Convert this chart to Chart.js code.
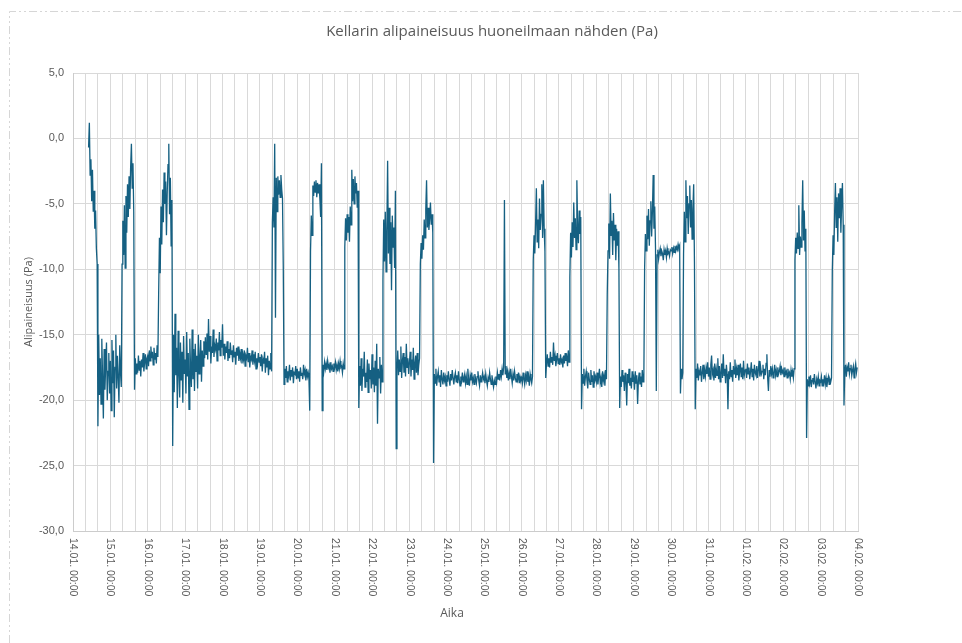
<!DOCTYPE html>
<html>
<head>
<meta charset="utf-8">
<title>Kellarin alipaineisuus</title>
<script src="https://cdn.jsdelivr.net/npm/chart.js@4.4.1/dist/chart.umd.min.js"></script>
<style>
  html, body { margin: 0; padding: 0; background: #fff; }
  #wrap { width: 962px; height: 643px; position: relative; }
</style>
</head>
<body>
<div id="wrap"><canvas id="chart"></canvas></div>
<script>
// x axis: hours since 14.01. 00:00, one reading every half hour
const tickLabels = [
    '14.01. 00:00', '15.01. 00:00', '16.01. 00:00', '17.01. 00:00', '18.01. 00:00', '19.01. 00:00',
    '20.01. 00:00', '21.01. 00:00', '22.01. 00:00', '23.01. 00:00', '24.01. 00:00', '25.01. 00:00',
    '26.01. 00:00', '27.01. 00:00', '28.01. 00:00', '29.01. 00:00', '30.01. 00:00', '31.01. 00:00',
    '01.02. 00:00', '02.02. 00:00', '03.02. 00:00', '04.02. 00:00'
];
const yMin = -30, yMax = 5, yStep = 5;
const stepHours = 0.5;

// alipaineisuus (Pa), 48 readings per day
const jan14 = [
    null, null, null, null, null, null, null, null, null, null, null, null,
    null, null, null, null, null, null, null, null, -0.7, 1.2, -2.8, -1.6,
    -4.8, -2.4, -5.6, -4.0, -6.9, -5.5, -8.4, -9.6, -22.0, -15.0, -19.6, -16.8,
    -20.3, -15.3, -18.4, -21.4, -16.1, -19.2, -17.3, -15.6, -20.0, -17.8, -16.4, -19.5
];
const jan15 = [
    -17.0, -20.8, -15.4, -18.7, -16.2, -21.3, -17.5, -15.0, -19.1, -16.6, -18.3, -20.2,
    -15.8, -17.9, -19.0, -9.6, -6.3, -8.9, -5.1, -9.9, -4.4, -7.2, -3.5, -6.0,
    -2.9, -5.4, -2.2, -0.4, -3.8, -1.9, -5.6, -19.2, -16.8, -18.0, -17.2, -17.9,
    -16.6, -17.7, -17.0, -18.2, -16.9, -17.5, -16.4, -17.8, -17.1, -16.5, -17.6, -16.8
];
const jan16 = [
    -16.6, -17.4, -16.2, -17.0, -15.9, -16.8, -16.3, -17.3, -16.0, -16.9, -16.4, -17.2,
    -15.8, -16.7, -11.8, -7.6, -10.3, -5.2, -8.1, -3.9, -6.4, -2.6, -5.0, -3.3,
    -7.4, -4.1, -2.0, -0.4, -5.8, -3.0, -8.2, -4.7, -23.5, -15.0, -19.4, -13.4,
    -18.1, -16.0, -20.6, -14.7, -17.9, -19.8, -15.6, -18.5, -16.3, -20.2, -15.1, -18.0
];
const jan17 = [
    -16.9, -19.5, -14.8, -18.2, -16.4, -20.7, -15.3, -17.6, -19.0, -14.6, -18.4, -16.1,
    -19.3, -15.7, -17.8, -16.6, -19.1, -15.0, -18.0, -16.8, -15.4, -18.6, -16.2, -17.4,
    -15.5, -16.8, -15.2, -16.5, -14.9, -16.9, -13.8, -16.3, -15.1, -17.2, -15.9, -16.4,
    -14.6, -16.7, -15.8, -16.1, -15.3, -17.0, -15.6, -16.2, -14.8, -16.6, -15.4, -16.0
];
const jan18 = [
    -14.2, -16.6, -15.7, -16.9, -15.9, -16.4, -15.5, -17.0, -16.1, -16.8, -15.6, -16.5,
    -16.2, -17.1, -15.8, -16.7, -16.3, -17.3, -16.0, -16.6, -15.9, -17.0, -16.4, -16.8,
    -16.1, -17.2, -16.5, -16.9, -16.2, -17.4, -16.6, -16.8, -16.0, -17.1, -16.4, -17.5,
    -16.7, -16.9, -16.2, -17.3, -16.5, -17.0, -16.3, -17.6, -16.8, -17.2, -16.4, -17.1
];
const jan19 = [
    -16.7, -17.4, -16.5, -17.8, -16.9, -17.2, -16.3, -17.9, -16.8, -17.5, -16.6, -18.1,
    -17.0, -17.6, -16.4, -17.8, -6.4, -4.5, -6.8, -0.4, -13.7, -3.0, -5.6, -2.9,
    -4.3, -3.2, -4.5, -2.8, -3.9, -4.6, -9.8, -18.8, -17.6, -18.3, -17.4, -18.6,
    -17.8, -18.1, -17.3, -18.5, -17.7, -18.2, -17.5, -18.7, -17.9, -18.0, -17.4, -18.4
];
const jan20 = [
    -17.6, -18.3, -17.8, -18.6, -17.5, -18.1, -17.9, -18.4, -17.3, -18.0, -17.7, -18.5,
    -17.6, -18.2, -17.9, -18.4, -20.8, -8.6, -5.9, -7.4, -3.6, -4.4, -3.3, -4.1,
    -3.2, -4.5, -3.4, -4.2, -3.5, -4.6, -6.0, -1.9, -20.8, -17.3, -17.8, -17.1,
    -17.6, -17.2, -17.7, -17.0, -17.5, -17.3, -17.9, -17.1, -17.6, -17.4, -17.8, -17.2
];
const jan21 = [
    -17.5, -17.1, -17.7, -17.3, -17.8, -17.2, -17.6, -17.0, -17.5, -17.4, -17.9, -17.2,
    -17.6, -8.3, -6.1, -7.8, -5.8, -7.2, -6.0, -7.9, -5.2, -6.6, -2.4, -4.8,
    -3.1, -5.0, -2.9, -4.2, -3.4, -5.3, -4.0, -20.6, -17.4, -18.9, -16.8, -19.3,
    -17.6, -18.2, -16.3, -19.0, -17.9, -18.6, -16.9, -19.4, -17.2, -18.4, -17.7, -19.1
];
const jan22 = [
    -16.5, -18.8, -17.5, -19.4, -17.0, -18.9, -15.7, -21.8, -17.6, -18.3, -16.7, -19.5,
    -17.3, -18.6, -10.8, -6.2, -9.4, -5.6, -10.2, -7.1, -1.7, -8.8, -5.3, -9.6,
    -6.4, -11.6, -5.9, -8.3, -6.8, -9.9, -4.0, -23.7, -17.6, -16.2, -18.1, -16.9,
    -17.8, -15.9, -18.3, -17.0, -16.4, -17.9, -16.7, -18.2, -15.7, -17.5, -16.8, -18.0
];
const jan23 = [
    -17.1, -16.3, -18.2, -16.9, -17.7, -16.0, -18.4, -17.2, -16.6, -17.9, -16.4, -18.1,
    -17.3, -16.8, -9.6, -8.0, -9.2, -7.4, -8.5, -6.2, -7.6, -5.4, -3.2, -6.8,
    -5.3, -7.0, -6.1, -4.9, -6.6, -5.8, -7.2, -24.8, -18.0, -18.7, -17.6, -18.9,
    -18.2, -17.8, -18.6, -18.1, -19.0, -17.7, -18.4, -18.8, -17.9, -18.5, -18.2, -18.9
];
const jan24 = [
    -18.1, -18.6, -17.8, -18.4, -18.9, -18.0, -18.5, -17.7, -18.3, -18.8, -18.2, -17.9,
    -18.6, -18.1, -18.7, -17.8, -18.4, -18.9, -18.2, -18.5, -17.9, -18.6, -18.3, -18.0,
    -18.7, -18.2, -18.8, -17.6, -18.4, -18.9, -18.1, -18.5, -17.9, -18.6, -18.3, -18.8,
    -18.0, -18.4, -18.7, -18.2, -17.8, -18.5, -18.9, -18.1, -18.6, -18.3, -17.9, -18.4
];
const jan25 = [
    -18.2, -18.7, -18.0, -18.5, -18.9, -18.3, -18.6, -17.9, -18.4, -18.8, -18.1, -18.6,
    -19.0, -18.5, -18.8, -18.2, -18.6, -17.9, -18.4, -18.0, -18.5, -17.7, -18.2, -17.6,
    -18.1, -17.5, -4.7, -18.0, -17.4, -18.3, -17.8, -18.5, -17.9, -18.4, -17.6, -18.2,
    -18.7, -18.0, -18.5, -17.8, -18.3, -18.6, -18.0, -18.4, -17.9, -18.7, -18.2, -18.5
];
const jan26 = [
    -18.3, -18.7, -17.9, -18.4, -18.8, -18.1, -18.5, -17.8, -18.6, -18.2, -18.9, -18.0,
    -18.4, -18.7, -18.2, -9.3, -7.4, -8.8, -6.5, -3.8, -7.9, -6.2, -8.4, -4.6,
    -7.0, -5.8, -3.5, -7.6, -3.2, -6.9, -8.6, -18.3, -17.2, -16.5, -17.4, -16.8,
    -17.5, -16.3, -17.1, -16.7, -17.3, -15.6, -17.0, -16.6, -17.4, -16.9, -16.4, -17.2
];
const jan27 = [
    -16.8, -17.3, -16.5, -17.1, -16.9, -17.5, -16.6, -17.2, -16.4, -17.0, -16.7, -17.4,
    -16.2, -17.1, -10.6, -7.2, -9.1, -6.4, -8.3, -4.9, -7.6, -6.1, -8.5, -3.2,
    -6.8, -8.0, -5.5, -7.3, -6.0, -20.7, -18.0, -18.7, -17.6, -18.9, -18.2, -17.8,
    -18.5, -19.1, -17.9, -18.4, -18.8, -17.7, -18.6, -18.1, -19.0, -17.8, -18.5, -18.2
];
const jan28 = [
    -18.6, -17.9, -18.8, -18.2, -17.6, -18.7, -18.3, -19.0, -17.8, -18.5, -18.1, -18.9,
    -17.7, -18.4, -11.9, -8.6, -6.5, -9.2, -4.2, -7.4, -6.3, -8.9, -5.7, -7.8,
    -6.6, -9.3, -6.9, -8.2, -7.1, -9.9, -20.6, -18.2, -19.0, -17.7, -18.6, -18.1,
    -19.3, -17.9, -18.5, -20.4, -18.0, -18.7, -17.6, -18.9, -18.3, -19.1, -17.8, -18.6
];
const jan29 = [
    -18.3, -19.2, -17.8, -18.7, -18.1, -20.3, -18.5, -17.9, -18.8, -18.2, -19.0, -17.7,
    -18.6, -18.4, -9.9, -7.3, -8.6, -5.9, -7.7, -5.4, -8.2, -6.3, -4.8, -7.5,
    -5.6, -2.8, -6.9, -5.2, -8.4, -19.3, -8.9, -8.5, -9.2, -8.7, -8.4, -9.0,
    -8.6, -8.8, -9.3, -8.5, -8.9, -8.6, -9.1, -8.4, -8.8, -8.7, -9.0, -8.5
];
const jan30 = [
    -8.6, -8.3, -8.8, -8.4, -8.7, -8.2, -8.6, -8.3, -8.5, -8.1, -8.4, -8.2,
    -19.5, -17.6, -18.4, -17.9, -8.8, -5.6, -7.9, -3.2, -6.1, -4.4, -7.3, -5.0,
    -3.6, -6.8, -4.7, -7.7, -5.4, -3.5, -9.4, -20.7, -17.6, -18.3, -17.2, -18.5,
    -17.8, -18.1, -17.4, -18.6, -17.9, -17.3, -18.4, -17.7, -18.2, -17.5, -18.0, -17.1
];
const jan31 = [
    -18.2, -17.5, -18.4, -17.3, -16.6, -18.0, -17.7, -18.5, -17.2, -18.3, -17.6, -18.1,
    -16.8, -18.4, -17.4, -18.6, -17.9, -17.2, -18.3, -16.5, -18.1, -17.6, -18.7, -17.3,
    -18.0, -20.7, -17.8, -18.4, -17.1, -18.2, -17.7, -18.6, -17.4, -18.0, -16.9, -18.3,
    -17.6, -18.1, -17.3, -18.5, -17.8, -17.2, -18.2, -17.5, -18.4, -17.0, -18.1, -17.7
];
const feb01 = [
    -17.6, -18.3, -17.2, -18.0, -17.5, -18.4, -17.8, -17.1, -18.2, -17.6, -18.5, -17.3,
    -17.9, -18.1, -17.4, -18.3, -17.7, -17.0, -18.2, -17.5, -18.0, -17.8, -17.3, -18.4,
    -17.6, -18.1, -17.2, -16.5, -18.3, -19.3, -17.7, -18.2, -17.4, -18.0, -17.6, -18.3,
    -17.9, -17.3, -18.1, -17.7, -18.2, -17.5, -18.0, -17.8, -17.4, -18.1, -17.6, -17.9
];
const feb02 = [
    -17.7, -18.2, -17.5, -18.0, -17.8, -18.3, -17.6, -18.1, -17.9, -18.4, -17.7, -18.2,
    -17.8, -18.3, -17.6, -9.3, -7.6, -8.8, -7.2, -8.4, -5.1, -8.9, -7.5, -8.3,
    -6.4, -3.2, -7.8, -5.5, -8.6, -6.9, -22.9, -18.4, -18.9, -18.2, -18.7, -18.1,
    -19.0, -18.5, -18.3, -18.8, -18.0, -18.6, -19.1, -18.4, -18.7, -18.2, -18.9, -18.5
];
const feb03 = [
    -18.6, -18.2, -18.9, -18.4, -18.7, -18.1, -18.8, -18.3, -19.0, -18.5, -18.2, -18.8,
    -18.4, -18.6, -18.3, -10.1, -7.4, -8.9, -5.6, -3.4, -6.8, -4.5, -7.9, -4.2,
    -6.1, -3.8, -7.2, -5.0, -3.4, -6.6, -20.4, -17.9, -17.3, -18.2, -17.5, -17.8,
    -17.1, -18.0, -17.6, -17.3, -18.1, -17.7, -17.4, -18.3, -17.6, -17.2, -17.9, -17.5
];

const days = [jan14, jan15, jan16, jan17, jan18, jan19, jan20, jan21, jan22, jan23, jan24,
              jan25, jan26, jan27, jan28, jan29, jan30, jan31, feb01, feb02, feb03];
const pressure = days.flat();

const TEXT = '#595959';
const GRID = '#d9d9d9';
const LINE = '#156082';

const decorations = {
    id: 'decorations',
    beforeDraw(chart) {
        const { ctx, width, height } = chart;
        ctx.save();
        ctx.fillStyle = '#fff';
        ctx.fillRect(0, 0, width, height);
        // dash-dot frame of the chart area (only top and left are visible)
        ctx.strokeStyle = '#d6d6d6';
        ctx.lineWidth = 1;
        ctx.setLineDash([8, 3, 2, 3, 2, 3]);
        ctx.beginPath();
        ctx.moveTo(9.5, height);
        ctx.lineTo(9.5, 11.5);
        ctx.lineTo(width, 11.5);
        ctx.stroke();
        ctx.restore();
    },
    afterDraw(chart) {
        const { ctx, chartArea } = chart;
        const xs = chart.scales.x;
        ctx.save();
        ctx.fillStyle = TEXT;

        ctx.font = '15px "Open Sans", "Noto Sans", sans-serif';
        ctx.textAlign = 'center';
        ctx.textBaseline = 'middle';
        ctx.fillText('Kellarin alipaineisuus huoneilmaan nähden (Pa)', 492, 32);

        ctx.font = '12px "Open Sans", "Noto Sans", sans-serif';
        ctx.fillText('Aika', 452, 614);

        // date labels, rotated to read downwards
        ctx.font = '10.5px "Liberation Sans", Arial, sans-serif';
        ctx.textAlign = 'left';
        tickLabels.forEach((label, i) => {
            const px = xs.getPixelForValue(i * 24);
            ctx.save();
            ctx.translate(px, chartArea.bottom + 7);
            ctx.rotate(Math.PI / 2);
            ctx.fillText(label, 0, 0);
            ctx.restore();
        });
        ctx.restore();
    }
};

const ctx = document.getElementById('chart').getContext('2d');
new Chart(ctx, {
    type: 'line',
    data: {
        datasets: [{
            data: pressure.map((v, i) => ({ x: i * stepHours, y: v })),
            borderColor: LINE,
            borderWidth: 1.3,
            pointRadius: 0,
            tension: 0,
            fill: false
        }]
    },
    options: {
        responsive: true,
        maintainAspectRatio: false,
        animation: false,
        layout: { padding: { top: 73, left: 0, right: 104, bottom: 0 } },
        plugins: {
            legend: { display: false },
            tooltip: { enabled: false },
            title: { display: false }
        },
        scales: {
            x: {
                type: 'linear',
                min: 0,
                max: (tickLabels.length - 1) * 24,
                ticks: { stepSize: 8, display: false },
                grid: { color: GRID, drawTicks: false },
                border: { color: '#cccccc' },
                afterFit(scale) { scale.height = 112; }
            },
            y: {
                min: yMin,
                max: yMax,
                ticks: {
                    stepSize: yStep,
                    color: TEXT,
                    padding: 9,
                    font: { family: '"Liberation Sans", Arial, sans-serif', size: 11 },
                    callback: v => v.toFixed(1).replace('.', ',')
                },
                grid: { color: GRID, drawTicks: false },
                border: { color: '#cccccc' },
                title: {
                    display: true,
                    text: 'Alipaineisuus (Pa)',
                    color: TEXT,
                    font: { family: '"Open Sans", "Noto Sans", sans-serif', size: 11 },
                    padding: { top: 22, bottom: 0 }
                },
                afterFit(scale) { scale.width = 73; }
            }
        }
    },
    plugins: [decorations]
});
</script>
</body>
</html>
